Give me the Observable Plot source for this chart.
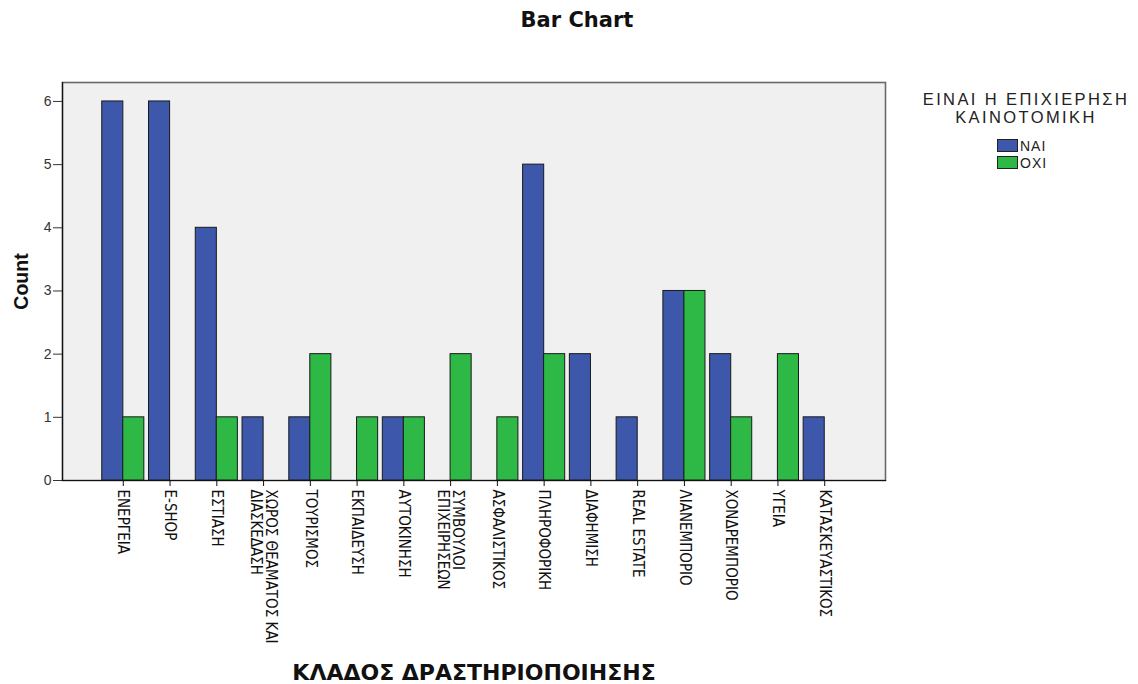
<!DOCTYPE html>
<html>
<head>
<meta charset="utf-8">
<script src="https://cdn.jsdelivr.net/npm/d3@7"></script>
<script src="https://cdn.jsdelivr.net/npm/@observablehq/plot@0.6"></script>
<style>
  html, body { margin: 0; padding: 0; background: #ffffff; }
  #wrap { position: relative; width: 1138px; height: 684px; overflow: hidden; }
  #title { position: absolute; left: 0; width: 1154px; top: 8px; text-align: center;
    font-family: "DejaVu Sans", sans-serif; font-weight: bold; font-size: 21px; color: #111; }
  #legend { position: absolute; left: 910px; width: 232px; top: 90px; font-family: "Liberation Sans", Arial, sans-serif; color: #222; }
  #legend .lt { text-align: center; font-size: 16.5px; line-height: 18px; letter-spacing: 2.4px; }
  #legend .items { margin-left: 87px; margin-top: 11px; }
  #legend .it { display: flex; align-items: center; height: 17px; font-size: 14px; letter-spacing: 1px; }
  #legend .sw { width: 19px; height: 11px; border: 1px solid #222; margin-right: 2px; }
  #chart { position: absolute; left: 0; top: 0; }
  g[aria-label="y-axis label"] text { font-family: "Liberation Sans", Arial, sans-serif; font-weight: bold; font-size: 19.5px; fill: #111; }
  g[aria-label="x-axis label"] text { font-family: "DejaVu Sans", sans-serif; font-weight: bold; font-size: 22px; fill: #111; }
</style>
</head>
<body>
<div id="wrap">
  <div id="chart"></div>
  <div id="title">Bar Chart</div>
  <div id="legend"></div>
</div>
<script>
const categories = [
  "ΕΝΕΡΓΕΙΑ", "E-SHOP", "ΕΣΤΙΑΣΗ", "ΧΩΡΟΣ ΘΕΑΜΑΤΟΣ ΚΑΙ\nΔΙΑΣΚΕΔΑΣΗ", "ΤΟΥΡΙΣΜΟΣ",
  "ΕΚΠΑΙΔΕΥΣΗ", "ΑΥΤΟΚΙΝΗΣΗ", "ΣΥΜΒΟΥΛΟΙ\nΕΠΙΧΕΙΡΗΣΕΩΝ", "ΑΣΦΑΛΙΣΤΙΚΟΣ", "ΠΛΗΡΟΦΟΡΙΚΗ",
  "ΔΙΑΦΗΜΙΣΗ", "REAL ESTATE", "ΛΙΑΝΕΜΠΟΡΙΟ", "ΧΟΝΔΡΕΜΠΟΡΙΟ", "ΥΓΕΙΑ", "ΚΑΤΑΣΚΕΥΑΣΤΙΚΟΣ"
];
const naiCounts = [6, 6, 4, 1, 1, 0, 1, 0, 0, 5, 2, 1, 3, 2, 0, 1];
const oxiCounts = [1, 0, 1, 0, 2, 1, 1, 2, 1, 2, 0, 0, 3, 1, 2, 0];
const groups = ["ΝΑΙ", "ΟΧΙ"];
const groupColors = ["#3d57aa", "#2eb845"];
const yTicks = [0, 1, 2, 3, 4, 5, 6];
const yLabel = "Count";
const xLabel = "ΚΛΑΔΟΣ ΔΡΑΣΤΗΡΙΟΠΟΙΗΣΗΣ";
const legendTitle = ["ΕΙΝΑΙ Η ΕΠΙΧΙΕΡΗΣΗ", "ΚΑΙΝΟΤΟΜΙΚΗ"];

const rows = [];
categories.forEach((c, i) => {
  rows.push({cat: c, group: groups[0], value: naiCounts[i]});
  rows.push({cat: c, group: groups[1], value: oxiCounts[i]});
});
const naiRows = rows.filter(d => d.group === groups[0] && d.value > 0);
const oxiRows = rows.filter(d => d.group === groups[1] && d.value > 0);

const narrow = "'Liberation Sans Narrow', 'DejaVu Sans Condensed', 'Arial Narrow', sans-serif";

const plot = Plot.plot({
  width: 1138,
  height: 684,
  marginTop: 82,
  marginBottom: 204,
  marginLeft: 62,
  marginRight: 253,
  style: {fontFamily: "'Liberation Sans', Arial, sans-serif", background: "transparent", color: "#111"},
  x: {domain: categories, paddingInner: 0.1, paddingOuter: 0.85, round: false},
  y: {domain: [0, 6.3]},
  color: {domain: groups, range: groupColors},
  marks: [
    Plot.frame({fill: "#f0f0f0", stroke: "#6a6a6a", strokeWidth: 1.6}),
    Plot.barY(naiRows, {x: "cat", y: "value", fill: "group", stroke: "#1a1a1a", strokeWidth: 1, insetRight: 21}),
    Plot.barY(oxiRows, {x: "cat", y: "value", fill: "group", stroke: "#1a1a1a", strokeWidth: 1, insetLeft: 21}),
    Plot.frame({anchor: "left", stroke: "#111", strokeWidth: 1.2}),
    Plot.frame({anchor: "bottom", stroke: "#111", strokeWidth: 1.2}),
    Plot.axisY({ticks: yTicks, tickFormat: d3.format("d"), tickSize: 9, tickPadding: 2, fontSize: 14,
      color: "#333", label: yLabel, labelAnchor: "center", labelArrow: "none", labelOffset: 48}),
    Plot.axisX({tickRotate: 90, tickSize: 6, tickPadding: 3, fontSize: 15, fontFamily: narrow,
      label: xLabel, labelAnchor: "center", labelArrow: "none", labelOffset: 199})
  ]
});
document.getElementById("chart").appendChild(plot);

const lg = document.getElementById("legend");
lg.innerHTML = `<div class="lt">${legendTitle.join("<br>")}</div><div class="items">` +
  groups.map((g, i) => `<div class="it"><div class="sw" style="background:${groupColors[i]}"></div>${g}</div>`).join("") +
  `</div>`;
</script>
</body>
</html>
